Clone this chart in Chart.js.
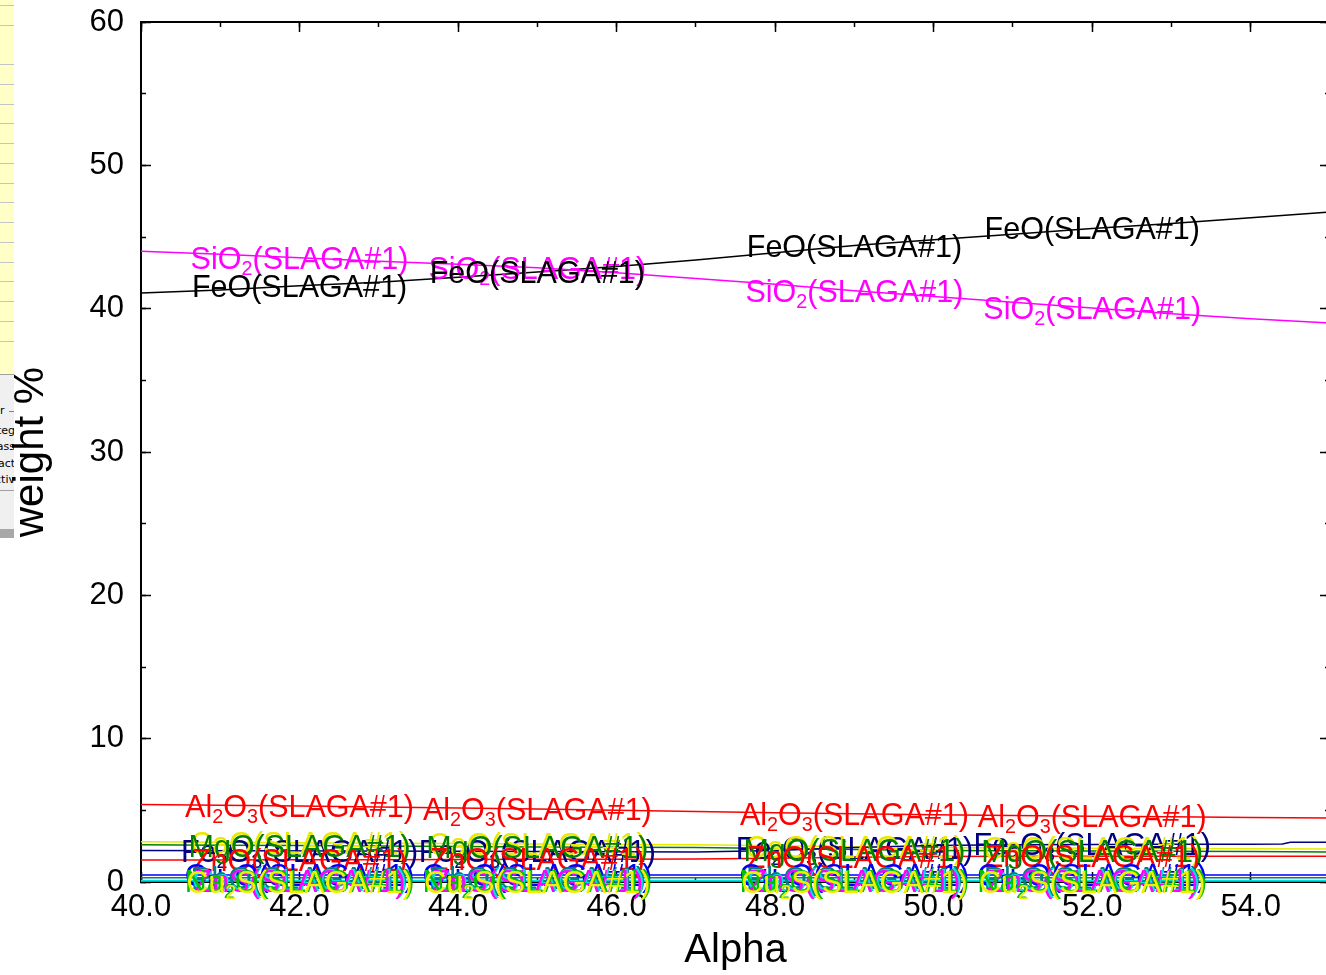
<!DOCTYPE html>
<html><head><meta charset="utf-8">
<script src="https://cdn.jsdelivr.net/npm/chart.js@4.4.1/dist/chart.umd.min.js"></script>
<style>
html,body{margin:0;padding:0;background:#fff;overflow:hidden;width:1326px;height:975px;}
#wrap{position:absolute;left:0;top:0;width:1345px;height:975px;}
#c{position:absolute;left:0;top:0;z-index:2;}
#strip{position:absolute;left:0;top:0;width:14px;height:374px;z-index:1;
 background:repeating-linear-gradient(to bottom,#ffffc6 0px,#ffffc6 5px,#c4c4c4 5px,#c4c4c4 6px,#ffffc6 6px,#ffffc6 19.75px);}
#dlg{position:absolute;left:0;top:374px;width:14px;height:163px;background:#f0f0f0;border-top:1px solid #a0a0a0;overflow:hidden;z-index:1;font:11px "DejaVu Sans",sans-serif;color:#000;}
#dlg .t{position:absolute;right:-1px;white-space:nowrap;line-height:13px;}
#dlg .ln{position:absolute;left:0;width:14px;height:1px;background:#a0a0a0;}
#dlg .sb{position:absolute;left:0;width:14px;top:154px;height:9px;background:#a8a8a8;}
</style></head>
<body>
<div id="strip"></div>
<div id="dlg">
  <div class="t" style="top:29px;">Parameter&nbsp;&nbsp;&nbsp;</div>
  <div class="ln" style="top:36px;left:9px;width:5px;background:#808080"></div>
  <div class="t" style="top:49px;">Integ</div>
  <div class="t" style="top:65px;">Mass</div>
  <div class="t" style="top:82px;">Exact</div>
  <div class="t" style="top:98px;">Activ</div>
  <div class="ln" style="top:115px;"></div>
  <div class="sb"></div>
</div>
<div id="wrap"><canvas id="c" width="1345" height="975"></canvas></div>
<script>
// ---- data (weight % vs Alpha) ----
const alpha = [40,41,42,43,44,45,46,47,48,49,50,51,52,53,54,55];
const FeO   = [41.1,41.3,41.6,41.85,42.2,42.55,42.95,43.4,43.9,44.4,44.8,45.2,45.6,45.95,46.35,46.75];
const SiO2  = [44.0,43.8,43.55,43.3,43.1,42.85,42.5,42.1,41.7,41.25,40.85,40.45,40.05,39.65,39.3,39.0];
const Al2O3 = [5.4,5.35,5.3,5.23,5.16,5.1,5.0,4.92,4.84,4.76,4.7,4.64,4.59,4.55,4.5,4.47];
const CaO   = [2.8,2.77,2.74,2.71,2.68,2.65,2.62,2.6,2.53,2.46,2.4,2.38,2.36,2.34,2.32,2.3];
const MgO   = [2.6,2.57,2.54,2.51,2.48,2.45,2.42,2.4,2.33,2.26,2.2,2.18,2.16,2.14,2.12,2.1];
const ZnO   = [1.53,1.54,1.55,1.56,1.57,1.58,1.59,1.6,1.65,1.72,1.78,1.8,1.8,1.8,1.8,1.8];
const Cu2O  = [0.48,0.48,0.48,0.48,0.48,0.48,0.48,0.48,0.48,0.48,0.49,0.49,0.49,0.49,0.49,0.49];
const PbO   = [0.3,0.3,0.3,0.3,0.3,0.3,0.3,0.3,0.3,0.3,0.3,0.3,0.3,0.3,0.3,0.3];
const CaS   = [0.1,0.1,0.1,0.1,0.1,0.1,0.1,0.1,0.1,0.1,0.1,0.1,0.1,0.1,0.1,0.1];
const ZnS   = [0.06,0.06,0.06,0.06,0.06,0.06,0.06,0.06,0.06,0.06,0.06,0.06,0.06,0.06,0.06,0.06];
const Na2O  = [0.04,0.04,0.04,0.04,0.04,0.04,0.04,0.04,0.04,0.04,0.04,0.04,0.04,0.04,0.04,0.04];
const Cu2S  = [0.02,0.02,0.02,0.02,0.02,0.02,0.02,0.02,0.02,0.02,0.02,0.02,0.02,0.02,0.02,0.02];
const alphaFe2O3 = [40,44,47,48,49,50,51,52,53,54,54.4,54.5,55];
const Fe2O3 = [2.2,2.15,2.1,2.2,2.4,2.55,2.6,2.62,2.63,2.64,2.65,2.78,2.78];
const labelAlphas = [42,45,49,52];
const xTicksMajor = 2, xTicksMinor = 1, yTicksMajor = 10, yTicksMinor = 5;
const LABEL_SUFFIX = '(SLAGA#1)';

const series = [
  {name:'SiO2',  xs:alpha, ys:SiO2,  color:'#ff00ff'},
  {name:'FeO',   xs:alpha, ys:FeO,   color:'#000000'},
  {name:'Al2O3', xs:alpha, ys:Al2O3, color:'#ff0000'},
  {name:'Fe2O3', xs:alphaFe2O3, ys:Fe2O3, color:'#000080'},
  {name:'CaO',   xs:alpha, ys:CaO,   color:'#e8e800'},
  {name:'MgO',   xs:alpha, ys:MgO,   color:'#008000'},
  {name:'ZnO',   xs:alpha, ys:ZnO,   color:'#ff0000'},
  {name:'Cu2O',  xs:alpha, ys:Cu2O,  color:'#0000ff'},
  {name:'PbO',   xs:alpha, ys:PbO,   color:'#008080'},
  {name:'CaS',   xs:alpha, ys:CaS,   color:'#00e0e0'},
  {name:'ZnS',   xs:alpha, ys:ZnS,   color:'#ff00ff'},
  {name:'Na2O',  xs:alpha, ys:Na2O,  color:'#00c000'},
  {name:'Cu2S',  xs:alpha, ys:Cu2S,  color:'#f0f000'}
];

const FONT = '"Liberation Sans", Arial, sans-serif';
const FS = 30.5, SUBR = 0.65;

function labelParts(formula){
  const out=[];
  for (const ch of formula){
    const sub=/[0-9]/.test(ch);
    if (out.length && out[out.length-1].sub===sub) out[out.length-1].t+=ch;
    else out.push({t:ch,sub});
  }
  out.push({t:LABEL_SUFFIX,sub:false});
  return out;
}
function fontFor(sub){ return (sub?FS*SUBR:FS)+'px '+FONT; }
function valueAt(pts,a){
  for (let i=0;i<pts.length-1;i++){
    const p=pts[i], q=pts[i+1];
    if (a>=p.x && a<=q.x) return p.y+(q.y-p.y)*(a-p.x)/(q.x-p.x);
  }
  return pts[pts.length-1].y;
}

const labelPlugin = {
  id:'seriesLabels',
  afterDatasetsDraw(chart){
    const {ctx, scales:{x,y}} = chart;
    ctx.save();
    ctx.textBaseline='alphabetic';
    ctx.textAlign='left';
    chart.data.datasets.forEach(ds=>{
      const parts = labelParts(ds.label);
      let w=0;
      parts.forEach(p=>{ctx.font=fontFor(p.sub); w+=ctx.measureText(p.t).width;});
      labelAlphas.forEach(a=>{
        const xc = x.getPixelForValue(a);
        const yc = y.getPixelForValue(valueAt(ds.data,a));
        let xx = xc - w/2;
        const base = yc + 0.358*FS;
        ctx.fillStyle = ds.borderColor;
        parts.forEach(p=>{
          ctx.font=fontFor(p.sub);
          ctx.fillText(p.t, xx, p.sub ? base+0.2*FS : base);
          xx += ctx.measureText(p.t).width;
        });
      });
    });
    ctx.restore();
  }
};

function mkGrid(len){ return {display:true, drawOnChartArea:false, drawTicks:true, tickLength:len, tickColor:'#000', tickWidth:1.5}; }
function noPad(s){ s.paddingTop=0; s.paddingBottom=0; s.paddingLeft=0; s.paddingRight=0; }
const fixW = w => (s => { s.width = w; noPad(s); });
const fixH = h => (s => { s.height = h; noPad(s); });
const tickFont = {family:FONT, size:31};
const border = {display:true, color:'#000', width:2};

new Chart(document.getElementById('c'), {
  type:'line',
  data:{
    datasets: series.map(s=>({
      label:s.name,
      data:s.xs.map((v,i)=>({x:v,y:s.ys[i]})),
      borderColor:s.color,
      backgroundColor:s.color,
      borderWidth:1.5,
      pointRadius:0,
      tension:0,
      fill:false
    }))
  },
  options:{
    responsive:false, animation:false, devicePixelRatio:1,
    layout:{padding:{left:0, top:22, right:15, bottom:0}},
    plugins:{legend:{display:false}, tooltip:{enabled:false}},
    scales:{
      x:{type:'linear', position:'bottom', weight:1, min:40, max:55,
        ticks:{stepSize:xTicksMajor, includeBounds:false, padding:17, color:'#000', font:tickFont, autoSkip:false, maxRotation:0,
          callback:v=>Number(v).toFixed(1)},
        grid:mkGrid(-10), border:border,
        title:{display:true, text:'Alpha', color:'#000', font:{family:FONT, size:40}, padding:{top:0,bottom:0}},
        afterFit:fixH(93)},
      xMinor:{type:'linear', axis:'x', position:'bottom', weight:0, min:40, max:55,
        ticks:{display:false, stepSize:xTicksMinor}, grid:mkGrid(-5), border:{display:false}, afterFit:fixH(0)},
      xTop:{type:'linear', axis:'x', position:'top', weight:1, min:40, max:55,
        ticks:{display:false, stepSize:xTicksMajor}, grid:mkGrid(-10), border:border, afterFit:fixH(0)},
      xTopMinor:{type:'linear', axis:'x', position:'top', weight:0, min:40, max:55,
        ticks:{display:false, stepSize:xTicksMinor}, grid:mkGrid(-5), border:{display:false}, afterFit:fixH(0)},
      y:{type:'linear', position:'left', weight:1, min:0, max:60,
        ticks:{stepSize:yTicksMajor, padding:27, color:'#000', font:tickFont},
        grid:mkGrid(-10), border:border,
        title:{display:true, text:'weight %', color:'#000', font:{family:FONT, size:42}, padding:{top:6,bottom:0}},
        afterFit:fixW(141)},
      yMinor:{type:'linear', axis:'y', position:'left', weight:0, min:0, max:60,
        ticks:{display:false, stepSize:yTicksMinor}, grid:mkGrid(-5), border:{display:false}, afterFit:fixW(0)},
      yRight:{type:'linear', axis:'y', position:'right', weight:1, min:0, max:60,
        ticks:{display:false, stepSize:yTicksMajor}, grid:mkGrid(-10), border:border, afterFit:fixW(0)},
      yRightMinor:{type:'linear', axis:'y', position:'right', weight:0, min:0, max:60,
        ticks:{display:false, stepSize:yTicksMinor}, grid:mkGrid(-5), border:{display:false}, afterFit:fixW(0)}
    }
  },
  plugins:[labelPlugin]
});
</script>
</body></html>
